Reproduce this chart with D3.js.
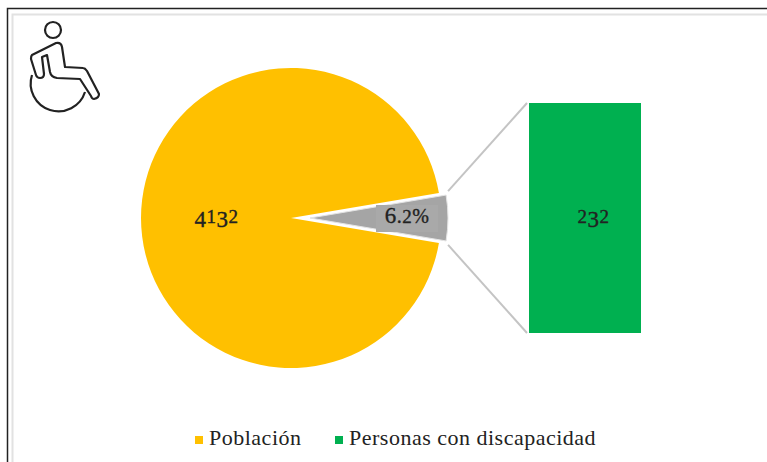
<!DOCTYPE html>
<html>
<head>
<meta charset="utf-8">
<script src="https://cdnjs.cloudflare.com/ajax/libs/d3/7.8.5/d3.min.js"></script>
<style>
    html, body { margin: 0; padding: 0; background: #fff; }
    svg { display: block; }
    text { font-family: "Liberation Serif", serif; fill: #222; }
    .lab { stroke: #222; stroke-width: 0.35px; }
</style>
</head>
<body>
<div id="chart"></div>
<script>
var categories = ["Población", "Personas con discapacidad"];
var values = [4132, 232];
var shareLabel = "6.2%";
var colors = ["#ffc000", "#00b050"];
var sliceGray = "#a5a5a5";

var width = 767,
    height = 462;

var svg = d3.select("#chart").append("svg")
    .attr("width", width)
    .attr("height", height);

// outer frame, black then light gray
svg.append("path")
    .attr("d", "M7.5,462V8.5H767")
    .attr("fill", "none")
    .attr("stroke", "#222")
    .attr("stroke-width", 1.5);
svg.append("path")
    .attr("d", "M12.5,462V14.5H767")
    .attr("fill", "none")
    .attr("stroke", "#e2e2e2")
    .attr("stroke-width", 2);

// wheelchair icon
var icon = svg.append("g")
    .attr("fill", "none")
    .attr("stroke", "#222")
    .attr("stroke-width", 2.2)
    .attr("stroke-linejoin", "round");
icon.append("circle").attr("cx", 53).attr("cy", 30).attr("r", 8);
icon.append("path")
    .attr("d", "M32,55L56,43Q61,42 62,47L65,67L83,68Q85,68 87,71L99,94Q99,98 94,99Q92,99 91,96L80,79L57,78Q51,77 50,72L47,55L42,57L44,74Q44,78 40,78Q37,78 36,75L31,59Q31,56 32,55Z");
icon.append("path")
    .attr("d", "M32,75A26.5,26.5 0 1 0 85,92");

var cx = 291,
    cy = 218,
    radius = 150;

// rotate so the small slice is centred on the right side
var smallAngle = 2 * Math.PI * values[1] / d3.sum(values);
var slices = d3.pie().sort(null)
    .startAngle(Math.PI / 2 + smallAngle / 2)
    .endAngle(Math.PI / 2 + smallAngle / 2 + 2 * Math.PI)(values);

var pieG = svg.append("g").attr("transform", "translate(" + cx + "," + cy + ")");

pieG.append("path")
    .attr("d", d3.arc().innerRadius(0).outerRadius(radius)(slices[0]))
    .attr("fill", colors[0]);

// gray slice pulled out to the right
var grayR = 138,
    grayShift = 19;
pieG.append("path")
    .attr("transform", "translate(" + grayShift + ",0)")
    .attr("d", d3.arc().innerRadius(0).outerRadius(grayR)
        .startAngle(Math.PI / 2 - smallAngle / 2)
        .endAngle(Math.PI / 2 + smallAngle / 2)())
    .attr("fill", sliceGray)
    .attr("stroke", "#e4e4e4")
    .attr("stroke-width", 1);

// stacked bar on the right
var yBar = d3.scaleLinear().domain([0, values[1]]).range([333, 103]);
var xBar = d3.scaleBand().domain([categories[1]]).range([529, 641]);

svg.append("rect")
    .attr("x", xBar(categories[1]))
    .attr("y", yBar(values[1]))
    .attr("width", xBar.bandwidth())
    .attr("height", yBar(0) - yBar(values[1]))
    .attr("fill", colors[1]);

// connector lines
var gx = cx + grayShift + grayR * Math.cos(smallAngle / 2) + 2,
    gdy = grayR * Math.sin(smallAngle / 2) + 4;
[[-1, yBar(values[1])], [1, yBar(0)]].forEach(function(d) {
    svg.append("line")
        .attr("x1", gx)
        .attr("y1", cy + d[0] * gdy)
        .attr("x2", xBar(categories[1]) - 2)
        .attr("y2", d[1])
        .attr("stroke", "#c4c4c4")
        .attr("stroke-width", 2);
});

// data labels
svg.append("rect")
    .attr("x", 376).attr("y", 205)
    .attr("width", 62).attr("height", 27)
    .attr("fill", "#a9a9a9");

var labels = [
    {"x": 216.5, "t": String(values[0])},
    {"x": 407, "t": shareLabel},
    {"x": 593.5, "t": String(values[1])}
];

// fake the old-style figures of the original font, one tspan per character
function digitSize (c) {
    return (c == "1" || c == "2" || c == "0") ? 19 : 23;
}
function digitDrop (c) {
    return (c == "3" || c == "4" || c == "5" || c == "7" || c == "9") ? 4 : 0;
}

svg.selectAll(".lab")
    .data(labels)
    .enter()
        .append("text").attr("class", "lab")
        .attr("x", function(d) { return d.x; })
        .attr("y", 223)
        .attr("text-anchor", "middle")
        .attr("letter-spacing", "0.5px")
        .each(function(d) {
            var prev = 0,
                el = d3.select(this);
            d.t.split("").forEach(function(c) {
                var drop = digitDrop(c);
                el.append("tspan")
                    .attr("dy", drop - prev)
                    .attr("font-size", (c == "%" || c == ".") ? "20px" : digitSize(c) + "px")
                    .text(c);
                prev = drop;
            });
        });

// legend
var legend = [
    {"name": categories[0], "color": colors[0], "x": 195},
    {"name": categories[1], "color": colors[1], "x": 335}
];
svg.selectAll(".legsq")
    .data(legend)
    .enter()
        .append("rect").attr("class", "legsq")
        .attr("x", function(d) { return d.x; })
        .attr("y", 436)
        .attr("width", 8)
        .attr("height", 8)
        .attr("fill", function(d) { return d.color; });
svg.selectAll(".legtx")
    .data(legend)
    .enter()
        .append("text").attr("class", "legtx")
        .attr("x", function(d) { return d.x + 14; })
        .attr("y", 445)
        .attr("font-size", "22px")
        .attr("letter-spacing", "0.5px")
        .text(function(d) { return d.name; });
</script>
</body>
</html>
